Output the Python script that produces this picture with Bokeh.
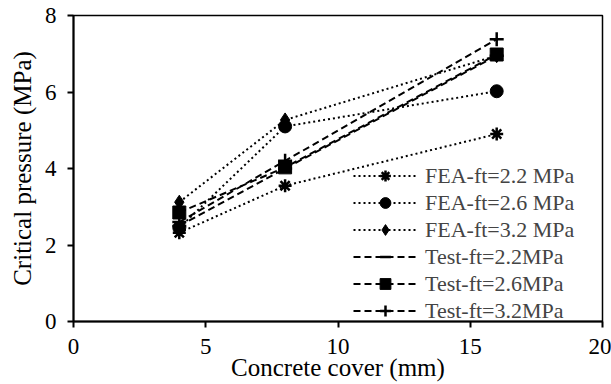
from bokeh.plotting import figure
from bokeh.models import Legend, LegendItem, Range1d, FixedTicker
from bokeh.embed import file_html
from bokeh.resources import INLINE

cover = [4, 8, 16]
fea_22 = [2.32, 3.55, 4.9]
fea_26 = [2.45, 5.1, 6.02]
fea_32 = [3.12, 5.27, 6.95]
test_22 = [2.5, 4.0, 6.95]
test_26 = [2.85, 4.03, 6.98]
test_32 = [2.6, 4.2, 7.38]

labels = ["FEA-ft=2.2 MPa", "FEA-ft=2.6 MPa", "FEA-ft=3.2 MPa",
          "Test-ft=2.2MPa", "Test-ft=2.6MPa", "Test-ft=3.2MPa"]
series = [fea_22, fea_26, fea_32, test_22, test_26, test_32]
markers = ["asterisk", "circle", "diamond", "dash", "square", "cross"]
sizes = [13, 13, 14, 14, 13, 14]
dashes = ["2 3", "2 3", "2 3", "7 4", "7 4", "7 4"]

FONT = "Liberation Serif"

p = figure(width=611, height=384, output_backend="svg", toolbar_location=None,
           x_range=Range1d(0, 20), y_range=Range1d(0, 8),
           min_border_left=73, min_border_right=9, min_border_top=15, min_border_bottom=63)
p.grid.visible = False
p.outline_line_color = "black"
p.outline_line_width = 1.5

items = []
for ys, lab, mk, sz, dsh in zip(series, labels, markers, sizes, dashes):
    l = p.line(cover, ys, line_color="black", line_width=2, line_dash=dsh)
    m = p.scatter(cover, ys, marker=mk, size=sz, fill_color="black",
                  line_color="black", line_width=2.5 if mk in ("asterisk", "cross", "dash") else 1)
    items.append(LegendItem(label=lab, renderers=[l, m]))

legend = Legend(items=items, location=(280, -3), background_fill_alpha=0,
                border_line_alpha=0, label_text_font=FONT, label_text_font_size="22px",
                glyph_width=64, glyph_height=27, spacing=0, label_standoff=8,
                padding=0, margin=0, label_height=27)
p.add_layout(legend, "center")

for ax in (p.xaxis[0], p.yaxis[0]):
    ax.axis_line_width = 2
    ax.major_tick_line_width = 2
    ax.major_tick_out = 6
    ax.major_tick_in = 0
    ax.minor_tick_line_color = None
    ax.major_label_text_font = FONT
    ax.major_label_text_font_size = "23px"
    ax.major_label_text_color = "black"
    ax.axis_label_text_font = FONT
    ax.axis_label_text_font_size = "25px"
    ax.axis_label_text_font_style = "normal"
    ax.axis_label_text_color = "black"

p.xaxis.ticker = FixedTicker(ticks=[0, 5, 10, 15, 20])
p.yaxis.ticker = FixedTicker(ticks=[0, 2, 4, 6, 8])
p.xaxis.axis_label = "Concrete cover (mm)"
p.yaxis.axis_label = "Critical pressure (MPa)"
p.xaxis.major_label_standoff = 11
p.xaxis.axis_label_standoff = -3
p.yaxis.major_label_standoff = 11
p.yaxis.axis_label_standoff = 6

open("out.html", "w").write(file_html(p, INLINE))
